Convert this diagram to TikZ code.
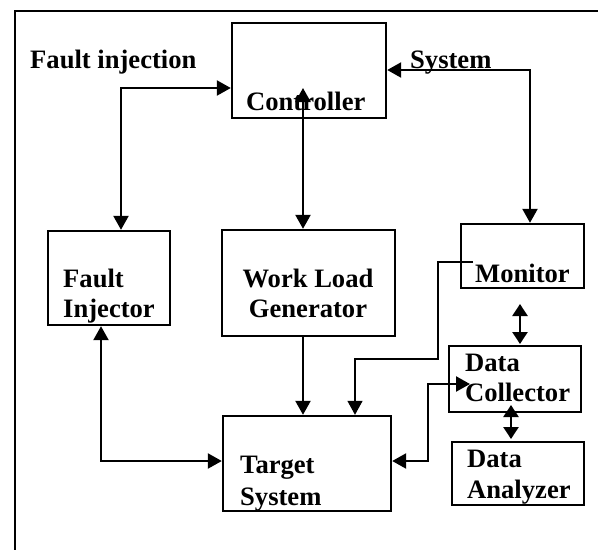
\documentclass[tikz,border=0pt]{standalone}
\usepackage{fontspec}
\setmainfont{Liberation Serif}
\usetikzlibrary{arrows.meta}
\begin{document}
\begin{tikzpicture}[x=1pt,y=-1pt,
  box/.style={draw, line width=2.4pt, inner sep=0pt},
  lbl/.style={font=\bfseries\fontsize{26.6}{30}\selectfont, inner sep=0pt, anchor=base west},
  clbl/.style={lbl, anchor=base},
  conn/.style={line width=2.4pt, -{Triangle[length=14pt,width=15pt]}},
  dbl/.style={line width=2.4pt, {Triangle[length=14pt,width=15pt]}-{Triangle[length=14pt,width=15pt]}},
  thinconn/.style={line width=1.4pt, -{Triangle[length=14pt,width=15pt]}},
  sdbl/.style={line width=2.4pt, {Triangle[length=12pt,width=15pt]}-{Triangle[length=12pt,width=15pt]}}]
\path[use as bounding box] (0,0) rectangle (598,550);
\fill[white] (0,0) rectangle (598,550);
% outer frame
\draw[line width=2.4pt] (598,11) -- (15,11) -- (15,550);
% boxes
\node[box, minimum width=154pt, minimum height=95pt] (ctrl) at (309,70.5) {};
\node[box, minimum width=122pt, minimum height=94pt] (fi) at (109,278) {};
\node[box, minimum width=173pt, minimum height=106pt] (wl) at (308.5,283) {};
\node[box, minimum width=123pt, minimum height=64pt] (mon) at (522.5,256) {};
\node[box, minimum width=132pt, minimum height=66pt] (dc) at (515,379) {};
\node[box, minimum width=132pt, minimum height=63pt] (da) at (518,473.5) {};
\node[box, minimum width=168pt, minimum height=95pt] (ts) at (307,463.5) {};
% labels
\node[lbl] (tfinj) at (30,68) {Fault injection};
\node[lbl] (tsys) at (410,68) {System};
\node[lbl] (tctrl) at (246,110) {Controller};
\node[lbl] (tfi1) at (63,287) {Fault};
\node[lbl] (tfi2) at (63,317) {Injector};
\node[clbl] (twl1) at (308,287) {Work Load};
\node[clbl] (twl2) at (308,317) {Generator};
\node[lbl] (tmon) at (475,282) {Monitor};
\node[lbl] (tdc1) at (465,371) {Data};
\node[lbl] (tdc2) at (465,401) {Collector};
\node[lbl] (tda1) at (467,467) {Data};
\node[lbl] (tda2) at (467,498) {Analyzer};
\node[lbl] (tts1) at (240,473) {Target};
\node[lbl] (tts2) at (240,505) {System};
% connector coordinates
\coordinate (c1) at (121,88);
\coordinate (c2) at (530,70);
\coordinate (c3) at (303,88);
\coordinate (m1) at (473,262);
\coordinate (m2) at (438,359);
\coordinate (m3) at (355,359);
\coordinate (f1) at (101,461);
\coordinate (d1) at (428,461);
\coordinate (d2) at (428,384);
\coordinate (d3) at (470,384);
\coordinate (e1) at (520,304);
\coordinate (e2) at (520,344);
\coordinate (g1) at (511,405);
\coordinate (g2) at (511,439);
% connectors
\draw[dbl] (fi.north -| c1) -- (c1) -- (c1 -| ctrl.west);
\draw[dbl] (ctrl.east |- c2) -- (c2) -- (c2 |- mon.north);
\draw[dbl] (c3) -- (c3 |- wl.north);
\draw[conn] (wl.south -| c3) -- (ts.north -| c3);
\draw[thinconn] (m1) -- (m1 -| m2) -- (m2) -- (m3) -- (m3 |- ts.north);
\draw[dbl] (fi.south -| f1) -- (f1) -- (f1 -| ts.west);
\draw[dbl] (d1 -| ts.east) -- (d1) -- (d2) -- (d3);
\draw[sdbl] (e1) -- (e2);
\draw[sdbl] (g1) -- (g2);
\end{tikzpicture}
\end{document}
